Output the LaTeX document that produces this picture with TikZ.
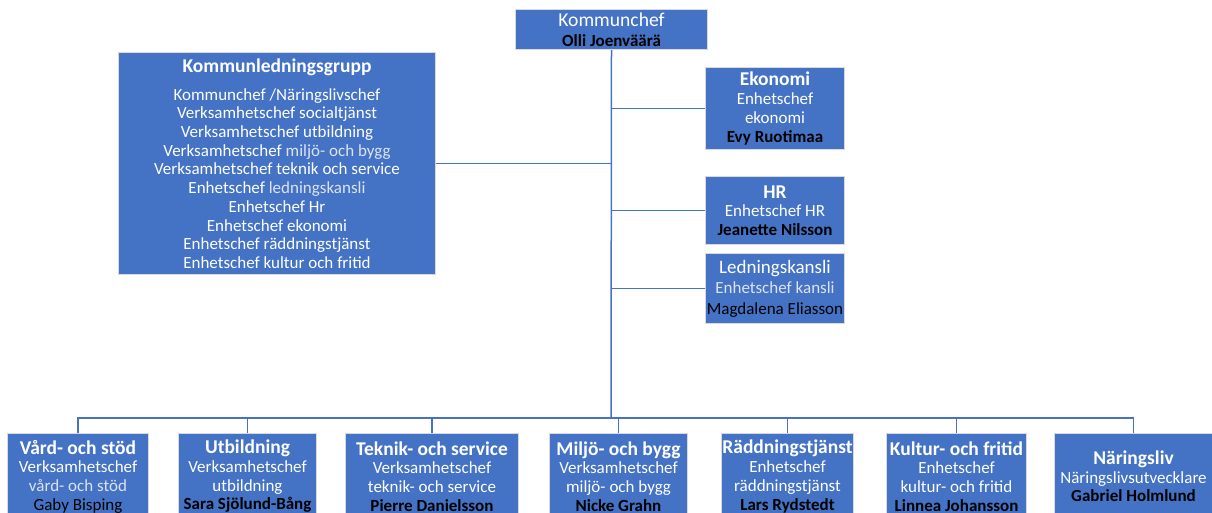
\documentclass[tikz,border=0pt]{standalone}
\usepackage{fontspec}
\setmainfont{Carlito}
\definecolor{boxblue}{HTML}{4472C4}
\definecolor{linkblue}{HTML}{4472C4}
\definecolor{dimwhite}{HTML}{DCE3EF}
\newcommand{\ttl}[1]{{\fontsize{19.5}{19.5}\selectfont\bfseries #1}}
\newcommand{\nme}[1]{{\color{black}\bfseries #1}}
\begin{document}
\begin{tikzpicture}[x=1pt,y=-1pt,
  box/.style={draw=black!15, line width=1pt, fill=boxblue, text=white, align=center,
    inner sep=0pt, anchor=north west, font=\fontsize{17}{18.7}\selectfont},
  link/.style={draw=linkblue, line width=1.5pt}]
\useasboundingbox (0,0) rectangle (1212,512);
\clip (0,0) rectangle (1212,512);

% top
\node[box, minimum width=192, minimum height=40] (chef) at (515,9)
  {{\fontsize{19.6}{19.6}\selectfont Kommunchef}\\[1.3pt]\nme{Olli Joenväärä}};

% management group
\node[box, minimum width=317, minimum height=222] (klg) at (118,52)
  {\ttl{Kommunledningsgrupp}\\[9.3pt]
   Kommunchef /Näringslivschef\\
   Verksamhetschef socialtjänst\\
   Verksamhetschef utbildning\\
   Verksamhetschef {\color{dimwhite}miljö- och bygg}\\
   Verksamhetschef teknik och service\\
   Enhetschef {\color{dimwhite}ledningskansli}\\
   Enhetschef Hr\\
   Enhetschef ekonomi\\
   Enhetschef räddningstjänst\\
   Enhetschef kultur och fritid};

% right staff units
\node[box, minimum width=139, minimum height=82] (eko) at (705,67)
  {\ttl{Ekonomi}\\Enhetschef\\ekonomi\\\nme{Evy Ruotimaa}};
\node[box, minimum width=139, minimum height=68] (hr) at (705,176)
  {\ttl{HR}\\Enhetschef HR\\\nme{Jeanette Nilsson}};
\node[box, minimum width=139, minimum height=70] (led) at (705,253)
  {{\fontsize{19}{19}\selectfont Ledningskansli}\\[1.3pt]
   {\color{dimwhite}Enhetschef kansli}\\[2.3pt]
   {\color{black}Magdalena Eliasson}};

% bottom row
\node[box, minimum width=141, minimum height=86] (vard) at (7,433)
  {\ttl{Vård- och stöd}\\Verksamhetschef\\{\color{dimwhite}vård- och stöd}\\{\color{black}Gaby Bisping}};
\node[box, minimum width=138, minimum height=86] (utb) at (178,433)
  {\ttl{Utbildning}\\Verksamhetschef\\utbildning\\\nme{Sara Sjölund-Bång}};
\node[box, minimum width=173, minimum height=86] (tek) at (345,433)
  {\ttl{Teknik- och service}\\Verksamhetschef\\teknik- och service\\\nme{Pierre Danielsson}};
\node[box, minimum width=138, minimum height=86] (mil) at (549,433)
  {\ttl{Miljö- och bygg}\\Verksamhetschef\\miljö- och bygg\\\nme{Nicke Grahn}};
\node[box, minimum width=132, minimum height=86] (rad) at (721,433)
  {\ttl{Räddningstjänst}\\Enhetschef\\räddningstjänst\\\nme{Lars Rydstedt}};
\node[box, minimum width=140, minimum height=86] (kul) at (886,433)
  {\ttl{Kultur- och fritid}\\Enhetschef\\kultur- och fritid\\\nme{Linnea Johansson}};
\node[box, minimum width=158, minimum height=86] (nar) at (1054,433)
  {\ttl{Näringsliv}\\Näringslivsutvecklare\\\nme{Gabriel Holmlund}};

% connectors
\coordinate (hub) at (611,418);
\draw[link] (chef.south) -- (hub);
\draw[link] (klg.east) -- (klg.east -| hub);
\draw[link] (eko.west) -- (eko.west -| hub);
\draw[link] (hr.west) -- (hr.west -| hub);
\draw[link] (led.west) -- (led.west -| hub);
\draw[link] (vard.north) -- (vard.north |- hub) -- (nar.north |- hub) -- (nar.north);
\foreach \n in {utb,tek,mil,rad,kul}
  \draw[link] (\n.north) -- (\n.north |- hub);
\end{tikzpicture}
\end{document}
